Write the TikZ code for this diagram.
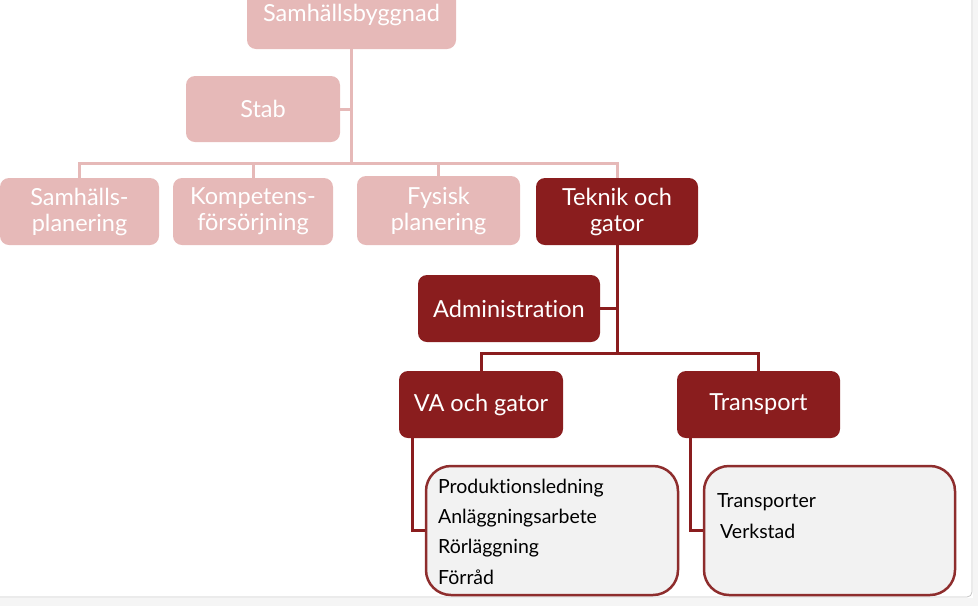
\documentclass[tikz,border=0pt]{standalone}
\usepackage{fontspec}
\setmainfont{Lato}[Ligatures=NoCommon]
\definecolor{lightred}{HTML}{E6B9B8}
\definecolor{darkred}{HTML}{8A1D1E}
\definecolor{listedge}{HTML}{8E2D2D}
\definecolor{listfill}{HTML}{F2F2F2}
\tikzset{
  orgbox/.style={rounded corners=9pt, inner sep=0pt, align=center, text=white,
    font=\fontsize{23.5}{26}\selectfont},
  lightbox/.style={orgbox, fill=lightred},
  darkbox/.style={orgbox, fill=darkred},
  lightline/.style={draw=lightred, line width=3pt},
  darkline/.style={draw=darkred, line width=3pt},
  listbox/.style={draw=listedge, fill=listfill, line width=2.5pt, rounded corners=25pt, inner sep=0pt},
  listtext/.style={anchor=west, inner sep=0pt, text=black, font=\fontsize{19.5}{22}\selectfont}
}
\begin{document}
\begin{tikzpicture}[x=1pt,y=-1pt]
\useasboundingbox (0,0) rectangle (978,606);
% window frame
\fill[gray!8] (0,598) rectangle (978,606);
\fill[gray!8] (973,0) rectangle (978,606);
\draw[gray!45, line width=0.8pt] (972,0) -- (972,592) arc[start angle=0, end angle=-90, radius=5pt] -- (0,597);

% light nodes
\node[lightbox, minimum width=209pt, minimum height=68pt] (sb) at (351.5,15) {Samhällsbyggnad};
\node[lightbox, minimum width=154pt, minimum height=66pt] (stab) at (263,109) {Stab};
\node[lightbox, minimum width=159pt, minimum height=67pt] (sp) at (79.5,211.5) {Samhälls-\\planering};
\node[lightbox, minimum width=160pt, minimum height=67pt] (kf) at (253,211.5) {Kompetens-\\försörjning};
\node[lightbox, minimum width=163pt, minimum height=69pt] (fp) at (438.5,210.5) {Fysisk\\planering};
% dark nodes
\node[darkbox, minimum width=162pt, minimum height=67pt] (tg) at (617,211.5) {Teknik och\\gator};
\node[darkbox, minimum width=182pt, minimum height=67pt] (adm) at (509,308.5) {Administration};
\node[darkbox, minimum width=164pt, minimum height=67pt] (va) at (481,404.5) {VA och gator};
\node[darkbox, minimum width=163pt, minimum height=67pt] (tr) at (758.5,404.5) {Transport};
% list boxes
\node[listbox, minimum width=252pt, minimum height=129pt] (vlist) at (552,530.5) {};
\node[listbox, minimum width=251pt, minimum height=129pt] (tlist) at (829.5,530.5) {};
\node[listtext] (v1) at (438,488) {Produktionsledning};
\node[listtext] (v2) at (438,518) {Anläggningsarbete};
\node[listtext] (v3) at (438,548) {Rörläggning};
\node[listtext] (v4) at (438,577) {Förråd};
\node[listtext] (t1) at (717,502) {Transporter};
\node[listtext] (t2) at (720,531) {Verkstad};

% light connectors
\coordinate (j1) at (351.5,163);
\draw[lightline] (sb.south) -- (j1);
\draw[lightline] (stab.east) -- (stab.east -| sb.south);
\draw[lightline] (sp.north) |- (j1) -| (tg.north);
\draw[lightline] (kf.north) -- (kf.north |- j1);
\draw[lightline] (fp.north) -- (fp.north |- j1);
% dark connectors
\coordinate (j2) at (617,353);
\draw[darkline] (tg.south) -- (j2);
\draw[darkline] (adm.east) -- (adm.east -| tg.south);
\draw[darkline] (va.north) |- (j2) -| (tr.north);
\draw[darkline] ([xshift=14pt]va.south west) |- (vlist.west);
\draw[darkline] ([xshift=14pt]tr.south west) |- (tlist.west);
\end{tikzpicture}
\end{document}
